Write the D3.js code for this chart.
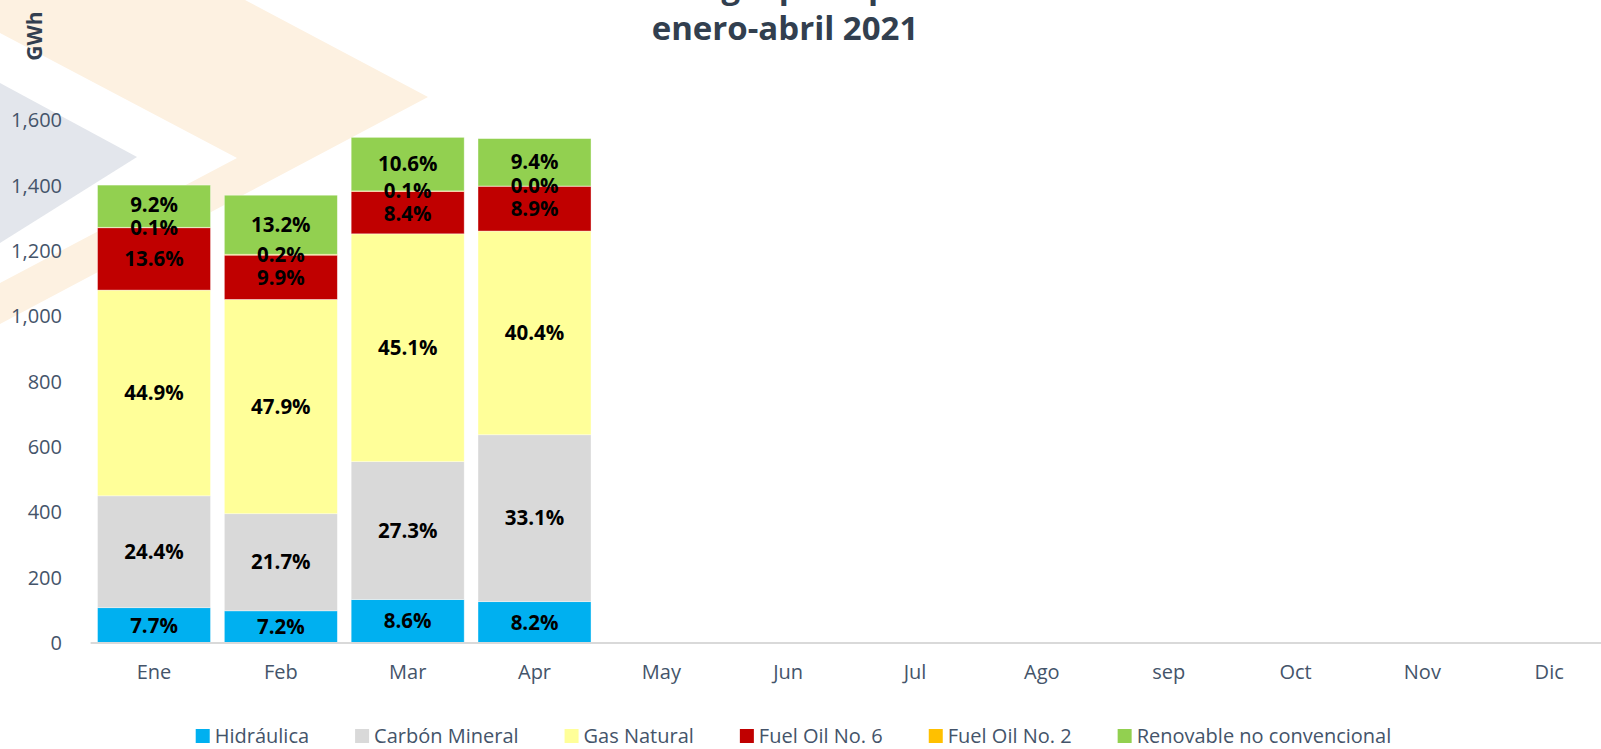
<!DOCTYPE html>
<html>
<head>
<meta charset="utf-8">
<script src="https://cdn.jsdelivr.net/npm/d3@7"></script>
<style>
  html, body { margin: 0; padding: 0; background: #fff; }
  svg { display: block; font-family: "Open Sans", sans-serif; }
</style>
</head>
<body>
<div id="chart"></div>
<script>
// meses del eje x
var meses = ["Ene", "Feb", "Mar", "Apr", "May", "Jun", "Jul", "Ago", "sep", "Oct", "Nov", "Dic"];

// GWh por tipo de fuente (enero-abril)
var hidraulica = [108.1, 98.6, 133.0, 126.6];
var carbon     = [342.6, 297.3, 422.3, 511.1];
var gasNatural = [630.0, 656.2, 697.7, 623.8];
var fuelOil6   = [190.9, 135.6, 129.9, 137.4];
var fuelOil2   = [1.4, 2.7, 1.5, 0.4];
var renovable  = [129.2, 180.8, 164.0, 145.3];

var series = ["Hidráulica", "Carbón Mineral", "Gas Natural", "Fuel Oil No. 6", "Fuel Oil No. 2", "Renovable no convencional"];
var colores = ["#00b0f0", "#d9d9d9", "#ffff99", "#c00000", "#ffc000", "#92d050"];
var yTicks = [0, 200, 400, 600, 800, 1000, 1200, 1400, 1600];

var titulo1 = "Generación de energía por tipo de combustible";
var titulo2 = "enero-abril 2021";

var W = 1601, H = 749;
var svg = d3.select("#chart").append("svg").attr("width", W).attr("height", H);

// marca de agua (flechas)
var wm = svg.append("g");
wm.append("path")
  .attr("d", "M0,0 L245,0 L428,97 L245,194 L0,324 L0,283 L237,158 L0,33 Z")
  .attr("fill", "#fdf1e1");
wm.append("path")
  .attr("d", "M0,83 L137,157 L0,243 Z")
  .attr("fill", "#e3e6ec");

// tabla para d3.stack
var filas = hidraulica.map(function(d, i) {
  var f = { mes: meses[i] };
  f[series[0]] = hidraulica[i];
  f[series[1]] = carbon[i];
  f[series[2]] = gasNatural[i];
  f[series[3]] = fuelOil6[i];
  f[series[4]] = fuelOil2[i];
  f[series[5]] = renovable[i];
  return f;
});
var stack = d3.stack().keys(series)(filas);

var x = d3.scaleBand().domain(meses).range([90.6, 1612.6]).paddingInner(0.109).paddingOuter(0.0545);
var y = d3.scaleLinear().domain([0, 1600]).range([643, 120.5]);
var color = d3.scaleOrdinal().domain(series).range(colores);

// eje y (solo etiquetas)
var yAxis = svg.append("g").attr("transform", "translate(72,0)")
  .call(d3.axisLeft(y).tickValues(yTicks).tickFormat(d3.format(",")).tickSize(0).tickPadding(10));
yAxis.select(".domain").remove();
yAxis.selectAll("text").attr("font-size", 20).attr("fill", "#44546a").attr("font-family", "Open Sans");

// barras
var capas = svg.append("g").selectAll("g").data(stack).enter().append("g")
  .attr("fill", function(d) { return color(d.key); });
capas.selectAll("rect").data(function(d) { return d; }).enter().append("rect")
  .attr("x", function(d) { return x(d.data.mes); })
  .attr("y", function(d) { return y(d[1]); })
  .attr("height", function(d) { return y(d[0]) - y(d[1]); })
  .attr("width", x.bandwidth())
  .attr("stroke", "#ffffff").attr("stroke-opacity", 0.5).attr("stroke-width", 0.75);

// linea del eje x
var xAxis = svg.append("g").attr("transform", "translate(0,643)")
  .call(d3.axisBottom(x).tickSize(0).tickPadding(22));
xAxis.select(".domain").attr("stroke", "#d9d9d9").attr("stroke-width", 2)
  .attr("d", "M" + x.range()[0] + ",0H" + W);
xAxis.selectAll("text").attr("font-size", 20).attr("fill", "#44546a").attr("font-family", "Open Sans");

// etiquetas de porcentaje
var pct = d3.format(".1%");
var etiquetas = [];
filas.forEach(function(f, i) {
  var total = d3.sum(series, function(k) { return f[k]; });
  var labs = stack.map(function(s) {
    var d = s[i];
    return { mes: f.mes, key: s.key, texto: pct(f[s.key] / total), cy: (y(d[0]) + y(d[1])) / 2 };
  });
  // separar las etiquetas pequeñas de arriba
  var fo2 = labs[4];
  if (fo2.cy - labs[5].cy < 23) labs[5].cy = fo2.cy - 23;
  if (labs[3].cy - fo2.cy < 23) labs[3].cy = fo2.cy + 23;
  etiquetas = etiquetas.concat(labs);
});
svg.append("g").selectAll("text").data(etiquetas).enter().append("text")
  .attr("x", function(d) { return x(d.mes) + x.bandwidth() / 2; })
  .attr("y", function(d) { return d.cy; })
  .attr("dy", "0.35em")
  .attr("text-anchor", "middle")
  .attr("font-size", 20.5).attr("font-weight", "bold").attr("fill", "#000")
  .text(function(d) { return d.texto; });

// titulo (la primera linea queda cortada por el borde)
svg.append("text").attr("x", 785).attr("y", -2).attr("text-anchor", "middle")
  .attr("font-size", 33).attr("font-weight", "bold").attr("fill", "#323f4f").text(titulo1);
svg.append("text").attr("x", 785).attr("y", 40).attr("text-anchor", "middle")
  .attr("font-size", 33).attr("font-weight", "bold").attr("fill", "#323f4f").text(titulo2);

// unidad
svg.append("text").attr("transform", "translate(42,36) rotate(-90)")
  .attr("text-anchor", "middle").attr("font-size", 21).attr("font-weight", "bold")
  .attr("fill", "#333f50").text("GWh");

// leyenda
var ley = svg.append("g");
var items = ley.selectAll("g").data(series).enter().append("g");
items.append("rect").attr("width", 14).attr("height", 14).attr("y", -7)
  .attr("fill", function(d) { return color(d); });
items.append("text").attr("x", 19).attr("dy", "0.35em")
  .attr("font-size", 20).attr("fill", "#44546a").text(function(d) { return d; });
var pos = 0, gap = 46;
items.each(function() {
  var g = d3.select(this);
  g.attr("transform", "translate(" + pos + ",0)");
  pos += 19 + g.select("text").node().getComputedTextLength() + gap;
});
pos -= gap;
ley.attr("transform", "translate(" + (793.5 - pos / 2) + ",736)");
</script>
</body>
</html>
